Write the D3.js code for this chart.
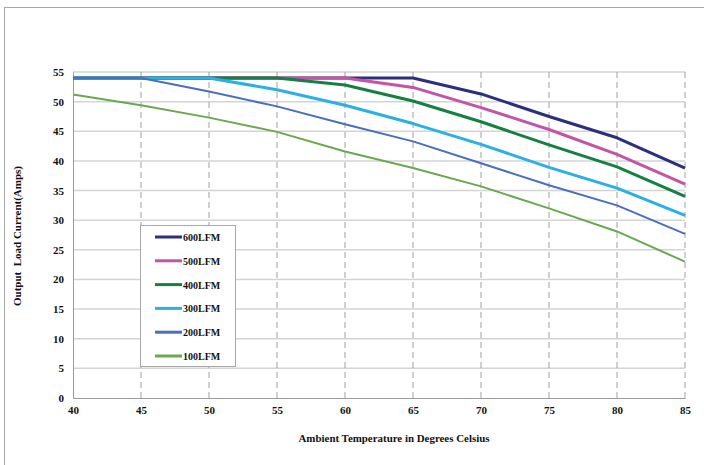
<!DOCTYPE html>
<html><head><meta charset="utf-8">
<script src="https://cdn.jsdelivr.net/npm/d3@7"></script>
<style>html,body{margin:0;padding:0;background:#fff;}svg{display:block;}</style>
</head><body>
<svg id="c" width="704" height="465"></svg>
<script>
const temps = [40, 45, 50, 55, 60, 65, 70, 75, 80, 85];
const yTicks = [0, 5, 10, 15, 20, 25, 30, 35, 40, 45, 50, 55];
const seriesNames = ["600LFM", "500LFM", "400LFM", "300LFM", "200LFM", "100LFM"];
const s600 = [54, 54, 54, 54, 54, 54, 51.3, 47.5, 43.9, 38.8];
const s500 = [54, 54, 54, 54, 54, 52.4, 49.0, 45.3, 41.1, 36.1];
const s400 = [54, 54, 54, 54, 52.8, 50.1, 46.6, 42.7, 39.0, 34.0];
const s300 = [54, 54, 54, 52.0, 49.4, 46.3, 42.8, 38.9, 35.4, 30.8];
const s200 = [54, 54, 51.7, 49.2, 46.2, 43.3, 39.6, 35.9, 32.5, 27.7];
const s100 = [51.2, 49.4, 47.3, 44.9, 41.6, 38.8, 35.7, 32.0, 28.1, 23.0];
const colors = ["#2b2f7d", "#c354a6", "#168043", "#2bb0e6", "#4a6fbe", "#6aa84f"];
const widths = [3, 3, 3, 3, 2, 2];

const series = [s600, s500, s400, s300, s200, s100];
const svg = d3.select("#c");
const font = "'Liberation Serif', 'Times New Roman', serif";

// outer frame
svg.append("rect").attr("x", 4.5).attr("y", 7.5).attr("width", 720).attr("height", 480)
  .attr("fill", "none").attr("stroke", "#a8a8a8").attr("stroke-width", 1);

const L = 73, R = 685, T = 72, B = 398;
const x = d3.scaleLinear().domain([40, 85]).range([L, R]);
const y = d3.scaleLinear().domain([0, 55]).range([B, T]);

// horizontal gridlines
svg.append("g").selectAll("line").data(yTicks.filter(d => d > 0)).join("line")
  .attr("x1", L).attr("x2", R).attr("y1", d => y(d)).attr("y2", d => y(d))
  .attr("stroke", "#d4d4d4").attr("stroke-width", 1.5);
// vertical dashed gridlines
svg.append("g").selectAll("line").data(temps.filter(d => d > 40)).join("line")
  .attr("x1", d => x(d)).attr("x2", d => x(d)).attr("y1", T).attr("y2", B)
  .attr("stroke", "#a0a0a0").attr("stroke-width", 1).attr("stroke-dasharray", "6,4");

// axes
const yAxis = d3.axisLeft(y).tickValues(yTicks).tickSize(0).tickPadding(9);
const gy = svg.append("g").attr("transform", `translate(${L},0)`).call(yAxis);
gy.select(".domain").attr("stroke", "#9a9a9a").attr("stroke-width", 1);
gy.selectAll("text").attr("font-family", font).attr("font-weight", "bold").attr("font-size", 11).attr("fill", "#111");

const xAxis = d3.axisBottom(x).tickValues(temps).tickSize(0).tickPadding(8);
const gx = svg.append("g").attr("transform", `translate(0,${B})`).call(xAxis);
gx.select(".domain").attr("stroke", "#9a9a9a").attr("stroke-width", 1);
gx.selectAll("text").attr("font-family", font).attr("font-weight", "bold").attr("font-size", 11).attr("fill", "#111");

// lines
const line = d3.line().x((d, i) => x(temps[i])).y(d => y(d));
series.forEach((s, k) => {
  svg.append("path").datum(s).attr("d", line).attr("fill", "none")
    .attr("stroke", colors[k]).attr("stroke-width", widths[k]).attr("stroke-linejoin", "round");
});

// axis titles
svg.append("text").attr("x", 394).attr("y", 442).attr("text-anchor", "middle")
  .attr("font-family", font).attr("font-weight", "bold").attr("font-size", 11).attr("fill", "#111")
  .attr("textLength", 191).attr("lengthAdjust", "spacingAndGlyphs")
  .text("Ambient Temperature in Degrees Celsius");
svg.append("text").attr("transform", "translate(21,236) rotate(-90)").attr("text-anchor", "middle")
  .attr("font-family", font).attr("font-weight", "bold").attr("font-size", 11).attr("fill", "#111")
  .style("white-space", "pre")
  .text("Output  Load Current(Amps)");

// legend
const lg = svg.append("g");
lg.append("rect").attr("x", 140.5).attr("y", 225.5).attr("width", 95).attr("height", 141)
  .attr("fill", "#fff").attr("stroke", "#a8a8a8").attr("stroke-width", 1);
seriesNames.forEach((n, k) => {
  const yy = 237 + k * 23.8;
  lg.append("line").attr("x1", 155).attr("x2", 182).attr("y1", yy).attr("y2", yy)
    .attr("stroke", colors[k]).attr("stroke-width", 3);
  lg.append("text").attr("x", 183).attr("y", yy + 4).attr("font-family", font)
    .attr("font-weight", "bold").attr("font-size", 10).attr("fill", "#111").text(n);
});
</script>
</body></html>
